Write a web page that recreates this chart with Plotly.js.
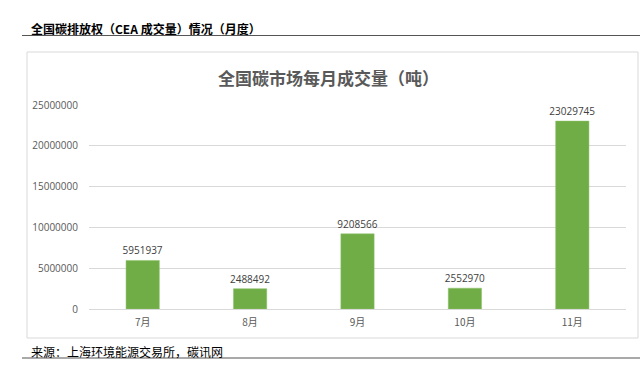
<!DOCTYPE html>
<html>
<head>
<meta charset="utf-8">
<script src="https://cdn.plot.ly/plotly-3.0.1.min.js"></script>
<style>
html,body{margin:0;padding:0;background:#fff;}
#chart{width:640px;height:376px;}
</style>
</head>
<body>
<div id="chart"></div>
<script>
const months = ["7月", "8月", "9月", "10月", "11月"];
const volumes = [5951937, 2488492, 9208566, 2552970, 23029745];
const tickVals = [0, 5000000, 10000000, 15000000, 20000000, 25000000];
const tickText = ["0", "5000000", "10000000", "15000000", "20000000", "25000000"];

const L = 89, R = 626, T = 105, B = 309;
const W = R - L, H = B - T;
const px = x => (x - L) / W;
const py = y => (B - y) / H;

const cjk = '"Noto Sans CJK SC", "Open Sans", sans-serif';
const latin = '"Open Sans", "Noto Sans CJK SC", sans-serif';

const trace = {
  type: 'bar',
  x: months,
  y: volumes,
  marker: {color: '#70ad47', line: {color: '#8cc26a', width: 0.5}},
  text: volumes.map(v => String(v)),
  textposition: 'outside',
  constraintext: 'none',
  textfont: {family: latin, size: 10, color: '#404040'},
  cliponaxis: false,
  hoverinfo: 'none'
};

const layout = {
  width: 640, height: 376,
  margin: {l: L, r: 640 - R, t: T, b: 376 - B},
  paper_bgcolor: '#ffffff',
  plot_bgcolor: '#ffffff',
  bargap: 0.69,
  showlegend: false,
  font: {family: latin},
  xaxis: {
    type: 'category',
    range: [-0.5, 4.5],
    showgrid: false,
    zeroline: false,
    showline: false,
    ticks: '',
    tickfont: {family: cjk, size: 10, color: '#595959'},
    ticklabelstandoff: 6
  },
  yaxis: {
    range: [0, 25000000],
    tickvals: tickVals,
    ticktext: tickText,
    showgrid: true,
    gridcolor: '#d9d9d9',
    gridwidth: 1,
    zeroline: true,
    zerolinecolor: '#d9d9d9',
    zerolinewidth: 1,
    showline: false,
    ticks: '',
    tickfont: {family: latin, size: 10, color: '#595959'},
    ticklabelstandoff: 10
  },
  shapes: [
    {type: 'rect', xref: 'paper', yref: 'paper',
     x0: px(27), x1: px(638), y0: py(52), y1: py(338),
     line: {color: '#d9d9d9', width: 1}, fillcolor: 'rgba(0,0,0,0)', layer: 'below'},
    {type: 'line', xref: 'paper', yref: 'paper',
     x0: px(22), x1: px(640), y0: py(35.5), y1: py(35.5),
     line: {color: '#555555', width: 1.2}},
    {type: 'line', xref: 'paper', yref: 'paper',
     x0: px(22), x1: px(640), y0: py(358), y1: py(358),
     line: {color: '#555555', width: 1.2}}
  ],
  annotations: [
    {xref: 'paper', yref: 'paper', x: px(29), y: py(28),
     xanchor: 'left', yanchor: 'middle', showarrow: false,
     text: '<b>全国碳排放权（CEA 成交量）情况（月度）</b>',
     font: {family: cjk, size: 12, color: '#000000'}},
    {xref: 'paper', yref: 'paper', x: px(328), y: py(77),
     xanchor: 'center', yanchor: 'middle', showarrow: false,
     text: '<b>全国碳市场每月成交量（吨）</b>',
     font: {family: cjk, size: 17, color: '#595959'}},
    {xref: 'paper', yref: 'paper', x: px(29), y: py(351),
     xanchor: 'left', yanchor: 'middle', showarrow: false,
     text: '来源：上海环境能源交易所，碳讯网',
     font: {family: cjk, size: 12, color: '#000000'}}
  ]
};

Plotly.newPlot('chart', [trace], layout, {displayModeBar: false, staticPlot: true});
</script>
</body>
</html>
